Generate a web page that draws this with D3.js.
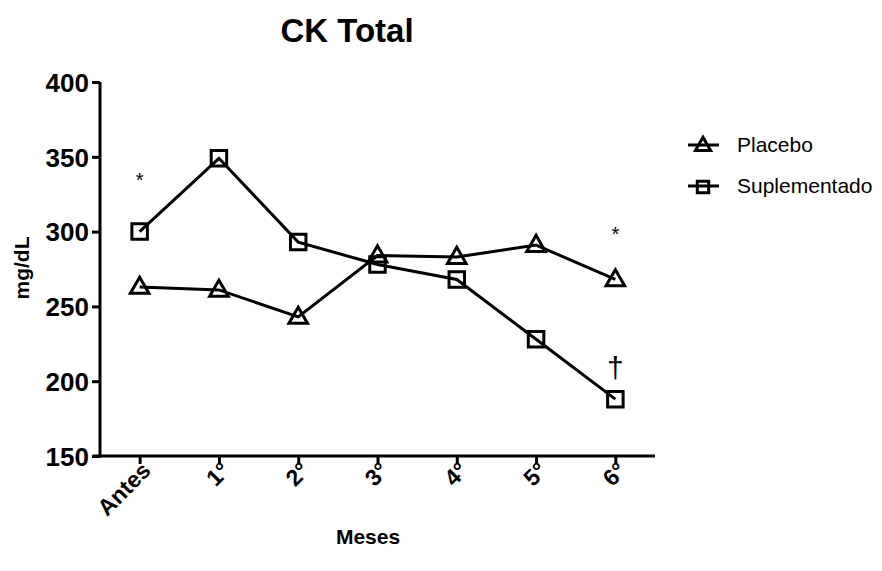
<!DOCTYPE html>
<html>
<head>
<meta charset="utf-8">
<script src="https://cdn.jsdelivr.net/npm/d3@7"></script>
<style>
  body { margin: 0; background: #fff; }
  text { font-family: "Liberation Sans", Arial, sans-serif; fill: #000; }
</style>
</head>
<body>
<svg width="882" height="571"></svg>
<script>
const meses = ['Antes', '1°', '2°', '3°', '4°', '5°', '6°'];
const placebo = [263, 261, 243, 284, 283, 291, 268];
const suplementado = [300, 349, 293, 278, 268, 228, 188];
const yTicks = [150, 200, 250, 300, 350, 400];
const marcas = [
  {mes: 'Antes', valor: 330, txt: '*'},
  {mes: '6°', valor: 294, txt: '*'},
  {mes: '6°', valor: 202, txt: '†'}
];

const svg = d3.select('svg');

const x = d3.scalePoint().domain(meses).range([100, 655]).padding(0.5);
const y = d3.scaleLinear().domain([150, 400]).range([456, 82]);

// eixo Y
const yAxis = svg.append('g').attr('transform', 'translate(100,0)')
  .call(d3.axisLeft(y).tickValues(yTicks).tickSize(8).tickPadding(3));
yAxis.select('.domain').attr('stroke-width', 3).attr('d', 'M0,82V457.5');
yAxis.selectAll('.tick line').attr('stroke-width', 3);
yAxis.selectAll('.tick text').attr('font-size', 26).attr('font-weight', 'bold')
  .attr('dy', '0.36em');

// eixo X
const xAxis = svg.append('g').attr('transform', 'translate(0,456)')
  .call(d3.axisBottom(x).tickSize(8).tickSizeOuter(0));
xAxis.select('.domain').attr('stroke-width', 3).attr('d', 'M93,0H655');
xAxis.selectAll('.tick line').attr('stroke-width', 3);
xAxis.selectAll('.tick text')
  .attr('font-size', 23).attr('font-weight', 'bold')
  .attr('text-anchor', 'end')
  .attr('dy', null).attr('y', 0)
  .attr('transform', 'translate(12,16) rotate(-45)');

// títulos
svg.append('text').attr('x', 347).attr('y', 42).attr('text-anchor', 'middle')
  .attr('font-size', 33).attr('font-weight', 'bold').text('CK Total');
svg.append('text').attr('x', 368).attr('y', 544).attr('text-anchor', 'middle')
  .attr('font-size', 21).attr('font-weight', 'bold').text('Meses');
svg.append('text').attr('transform', 'translate(29,268) rotate(-90)')
  .attr('text-anchor', 'middle')
  .attr('font-size', 21).attr('font-weight', 'bold').text('mg/dL');

const line = d3.line().x((d, i) => x(meses[i])).y(d => y(d));
const tri = d3.symbol().type(d3.symbolTriangle).size(150);
const sq = d3.symbol().type(d3.symbolSquare).size(240);

function serie(vals, sym, dyTri) {
  svg.append('path').datum(vals).attr('d', line)
    .attr('fill', 'none').attr('stroke', '#000').attr('stroke-width', 3);
  svg.selectAll(null).data(vals).enter().append('path')
    .attr('d', sym)
    .attr('transform', (d, i) => `translate(${x(meses[i])},${y(d) + dyTri})`)
    .attr('fill', 'none').attr('stroke', '#000').attr('stroke-width', 3);
}
serie(placebo, tri, 1);
serie(suplementado, sq, 0);

svg.selectAll(null).data(marcas).enter().append('text')
  .attr('x', d => x(d.mes)).attr('y', d => y(d.valor))
  .attr('text-anchor', 'middle')
  .attr('font-size', d => d.txt === '*' ? 20 : 30)
  .text(d => d.txt);

// legenda
const leg = svg.append('g');
[['Placebo', tri, 145], ['Suplementado', sq, 186]].forEach(([nome, sym, ly]) => {
  leg.append('line').attr('x1', 688).attr('x2', 719).attr('y1', ly).attr('y2', ly)
    .attr('stroke', '#000').attr('stroke-width', 3);
  leg.append('path').attr('d', sym.size(nome === 'Placebo' ? 100 : 130)())
    .attr('transform', `translate(703,${ly + 1})`)
    .attr('fill', 'none').attr('stroke', '#000').attr('stroke-width', 3);
  leg.append('text').attr('x', 737).attr('y', ly + 7).attr('font-size', 21).text(nome);
});
</script>
</body>
</html>
